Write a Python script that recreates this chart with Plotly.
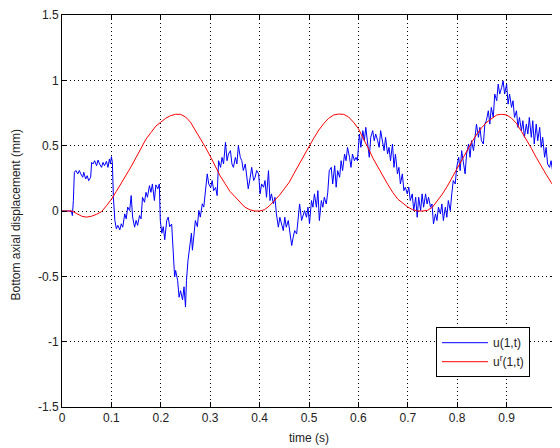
import plotly.graph_objects as go

# ---- data ----
t_u = [0.000, 0.010, 0.019, 0.021, 0.023, 0.025, 0.028, 0.032, 0.035, 0.038, 0.042, 0.044, 0.048, 0.051, 0.054, 0.058,
       0.060, 0.063, 0.066, 0.070, 0.073, 0.076, 0.080, 0.083, 0.086, 0.090, 0.093, 0.096, 0.098, 0.100, 0.102, 0.104,
       0.107, 0.110, 0.113, 0.117, 0.120, 0.123, 0.127, 0.130, 0.133, 0.137, 0.140, 0.143, 0.147, 0.150, 0.153, 0.157,
       0.160, 0.163, 0.167, 0.170, 0.173, 0.177, 0.180, 0.183, 0.187, 0.190, 0.194, 0.197,
       0.199, 0.202, 0.205, 0.208, 0.212, 0.215, 0.218, 0.222, 0.225, 0.228, 0.230, 0.234, 0.237, 0.240, 0.244, 0.247,
       0.250, 0.252, 0.255, 0.258, 0.262, 0.264, 0.267, 0.270, 0.274, 0.277, 0.280, 0.284, 0.287, 0.291, 0.294, 0.297,
       0.301, 0.304, 0.307, 0.311, 0.314, 0.317, 0.321, 0.324, 0.327, 0.331, 0.334, 0.337, 0.341, 0.344, 0.347, 0.351,
       0.354, 0.357, 0.361, 0.364, 0.367, 0.371, 0.374, 0.377, 0.381, 0.384, 0.388, 0.391, 0.394,
       0.398, 0.401, 0.404, 0.408, 0.411, 0.414, 0.418, 0.421, 0.424, 0.428, 0.431, 0.434, 0.438, 0.441, 0.444, 0.448,
       0.451, 0.454, 0.458, 0.461, 0.465, 0.468, 0.471, 0.475, 0.478, 0.481, 0.485, 0.488, 0.491, 0.495, 0.498, 0.501,
       0.505, 0.508, 0.511, 0.515, 0.518, 0.521, 0.525, 0.528, 0.531, 0.535, 0.538, 0.541, 0.545, 0.548, 0.552, 0.555,
       0.558, 0.562, 0.565, 0.568, 0.572, 0.575, 0.578, 0.582, 0.585, 0.588, 0.592, 0.595,
       0.598, 0.602, 0.605, 0.609, 0.612, 0.615, 0.619, 0.622, 0.625, 0.629, 0.632, 0.635, 0.639, 0.642, 0.645, 0.649,
       0.652, 0.655, 0.659, 0.662, 0.665, 0.669, 0.672, 0.675, 0.679, 0.682, 0.685, 0.689, 0.692, 0.695, 0.699, 0.702,
       0.705, 0.709, 0.712, 0.716, 0.719, 0.722, 0.726, 0.729, 0.732, 0.736, 0.739, 0.742, 0.746, 0.749, 0.752, 0.756,
       0.759, 0.762, 0.766, 0.769, 0.772, 0.776, 0.779, 0.782, 0.786, 0.789, 0.792, 0.796,
       0.799, 0.803, 0.806, 0.809, 0.813, 0.816, 0.819, 0.823, 0.826, 0.829, 0.833, 0.836, 0.839, 0.843, 0.846, 0.849,
       0.853, 0.856, 0.859, 0.863, 0.866, 0.869, 0.873, 0.876, 0.880, 0.883, 0.886, 0.890, 0.893, 0.896, 0.900, 0.903,
       0.906, 0.910, 0.913, 0.916, 0.920, 0.923, 0.926, 0.930, 0.933, 0.936, 0.940, 0.943, 0.946, 0.950, 0.953, 0.956,
       0.960, 0.963, 0.967, 0.970, 0.973, 0.977, 0.980, 0.983, 0.987, 0.990, 0.993, 0.997, 1.000]

u_vals = [0, 0, 0, -0.035, 0.08, 0.296, 0.31, 0.284, 0.31, 0.284, 0.258, 0.296, 0.245, 0.27, 0.232, 0.258,
          0.372, 0.36, 0.385, 0.347, 0.39, 0.36, 0.334, 0.372, 0.347, 0.38, 0.334, 0.398, 0.36, 0.416, 0.372, 0.105,
          -0.072, -0.136, -0.11, -0.144, -0.098, -0.124, -0.022, -0.06, 0.03, 0.003, 0.118, -0.047, -0.124, -0.072, -0.11, -0.035,
          -0.06, 0.105, 0.067, 0.143, 0.105, 0.194, 0.143, 0.207, 0.08, 0.2, 0.17, 0.207,
          -0.073, -0.17, -0.12, -0.22, -0.073, -0.047, -0.12, -0.1, -0.276, -0.505, -0.455, -0.53, -0.66, -0.61, -0.68, -0.58,
          -0.735, -0.53, -0.38, -0.3, -0.17, -0.3, -0.15, -0.073, -0.12, 0.004, -0.047, 0.055, 0.03, 0.156, 0.284, 0.207,
          0.18, 0.233, 0.156, 0.18, 0.118, 0.385, 0.334, 0.41, 0.36, 0.525, 0.385, 0.436, 0.462, 0.36, 0.334, 0.41,
          0.36, 0.5, 0.41, 0.385, 0.31, 0.36, 0.284, 0.17, 0.258, 0.334, 0.233, 0.258, 0.31,
          0.284, 0.131, 0.207, 0.182, 0.233, 0.105, 0.309, 0.08, 0.131, 0.054, 0.105, -0.022, -0.124, -0.048, -0.099, -0.15,
          -0.048, -0.124, -0.073, -0.175, -0.264, -0.2, -0.15, -0.175, -0.073, 0.054, -0.073, -0.022, 0.003, -0.048, 0.029, -0.099,
          0.08, 0.029, 0.131, 0.029, 0.156, -0.073, 0.08, 0.029, 0.105, 0.054, 0.144, 0.309, 0.334, 0.207, 0.347, 0.182,
          0.309, 0.258, 0.385, 0.309, 0.436, 0.385, 0.487, 0.411, 0.334, 0.436, 0.385, 0.411,
          0.385, 0.589, 0.487, 0.615, 0.538, 0.64, 0.513, 0.411, 0.564, 0.615, 0.538, 0.589, 0.538, 0.487, 0.615, 0.538,
          0.462, 0.564, 0.436, 0.487, 0.385, 0.513, 0.334, 0.436, 0.284, 0.334, 0.207, 0.284, 0.156, 0.182, 0.131, 0.182,
          0.08, 0.131, 0.003, 0.105, -0.048, 0.105, 0.003, 0.131, 0.029, 0.131, 0.054, 0.105, 0.029, 0.054, -0.099, -0.022,
          -0.073, 0.029, -0.022, 0.054, -0.073, 0.029, -0.048, 0.08, 0.003, 0.131, 0.233, 0.207,
          0.334, 0.411, 0.309, 0.462, 0.36, 0.284, 0.436, 0.513, 0.411, 0.538, 0.462, 0.564, 0.665, 0.564, 0.64, 0.538,
          0.513, 0.665, 0.691, 0.767, 0.665, 0.793, 0.716, 0.895, 0.844, 0.971, 0.895, 0.946, 0.996, 0.895, 0.971, 0.818,
          0.895, 0.793, 0.844, 0.716, 0.767, 0.64, 0.716, 0.615, 0.691, 0.564, 0.665, 0.589, 0.716, 0.564, 0.691, 0.513,
          0.665, 0.538, 0.64, 0.487, 0.564, 0.411, 0.487, 0.36, 0.334, 0.385, 0.309, 0.411, 0.462]

t_ur = [0.00, 0.02, 0.03, 0.04, 0.05, 0.06, 0.07, 0.08, 0.09, 0.10, 0.11, 0.12, 0.13, 0.14, 0.15, 0.16, 0.17, 0.18,
        0.19, 0.20, 0.21, 0.22, 0.23, 0.24, 0.25, 0.26, 0.27, 0.28, 0.29, 0.30, 0.31, 0.32, 0.33, 0.34, 0.35, 0.36,
        0.37, 0.38, 0.39, 0.40, 0.41, 0.42, 0.43, 0.44, 0.45, 0.46, 0.47, 0.48, 0.49, 0.50, 0.51, 0.52, 0.53, 0.54,
        0.55, 0.56, 0.57, 0.58, 0.59, 0.60, 0.61, 0.62, 0.63, 0.64, 0.65, 0.66, 0.67, 0.68, 0.69, 0.70, 0.71, 0.72,
        0.73, 0.74, 0.75, 0.76, 0.77, 0.78, 0.79, 0.80, 0.81, 0.82, 0.83, 0.84, 0.85, 0.86, 0.87, 0.88, 0.89, 0.90,
        0.91, 0.92, 0.93, 0.94, 0.95, 0.96, 0.97, 0.98, 0.99, 1.00]
ur_vals = [0, 0, -0.02, -0.04, -0.047, -0.04, -0.025, -0.005, 0.04, 0.09, 0.15, 0.21, 0.27, 0.34, 0.41, 0.48, 0.55, 0.60,
           0.65, 0.68, 0.71, 0.73, 0.74, 0.74, 0.72, 0.68, 0.62, 0.56, 0.49, 0.42, 0.34, 0.27, 0.21, 0.15, 0.11, 0.07,
           0.03, 0.01, 0.0, 0.0, 0.01, 0.04, 0.08, 0.12, 0.17, 0.22, 0.29, 0.36, 0.43, 0.50, 0.56, 0.62, 0.67, 0.71,
           0.735, 0.742, 0.74, 0.72, 0.68, 0.63, 0.56, 0.48, 0.40, 0.33, 0.26, 0.20, 0.14, 0.09, 0.06, 0.03, 0.01, 0.0,
           0.0, 0.005, 0.03, 0.08, 0.13, 0.19, 0.26, 0.32, 0.39, 0.46, 0.53, 0.59, 0.64, 0.68, 0.71, 0.735, 0.74, 0.735,
           0.71, 0.67, 0.61, 0.55, 0.48, 0.41, 0.34, 0.28, 0.22, 0.16]

x_ticks = [0, 0.1, 0.2, 0.3, 0.4, 0.5, 0.6, 0.7, 0.8, 0.9, 1.0]
x_labels = ["0", "0.1", "0.2", "0.3", "0.4", "0.5", "0.6", "0.7", "0.8", "0.9", "1"]
y_ticks = [-1.5, -1, -0.5, 0, 0.5, 1, 1.5]
y_labels = ["-1.5", "-1", "-0.5", "0", "0.5", "1", "1.5"]

FONT = "Liberation Sans, Arial, sans-serif"

fig = go.Figure()
fig.add_trace(go.Scatter(x=t_u, y=u_vals, mode="lines", name="u(1,t)",
                         line=dict(color="#0000ff", width=1)))
fig.add_trace(go.Scatter(x=t_ur, y=ur_vals, mode="lines", name="u<sup>r</sup>(1,t)",
                         line=dict(color="#ff0000", width=1)))

axis_common = dict(showline=True, linecolor="black", linewidth=1, mirror="ticks",
                   ticks="inside", ticklen=5, tickcolor="black", showgrid=True,
                   gridcolor="black", gridwidth=1, griddash="1px,3px", zeroline=False,
                   ticklabeloverflow="allow",
                   tickfont=dict(family=FONT, size=12, color="#222"))

fig.update_xaxes(range=[0, 1], tickvals=x_ticks, ticktext=x_labels, **axis_common)
fig.update_yaxes(range=[-1.5, 1.5], tickvals=y_ticks, ticktext=y_labels, **axis_common)

# The page body adds an 8px offset; the figure is sized/placed to compensate.
fig.update_layout(
    width=552, height=440,
    margin=dict(l=54, r=0, t=6, b=41),
    paper_bgcolor="white", plot_bgcolor="white",
    font=dict(family=FONT, size=12, color="#222"),
    showlegend=True,
    legend=dict(x=0.757, y=0.2036, xanchor="left", yanchor="top",
                bgcolor="white", bordercolor="black", borderwidth=1,
                font=dict(family=FONT, size=12, color="#222"),
                itemwidth=46, tracegroupgap=0, entrywidth=46, entrywidthmode="pixels"),
    annotations=[
        dict(text="time (s)", xref="paper", yref="paper", x=0.5, y=-0.079,
             xanchor="center", yanchor="middle", showarrow=False,
             font=dict(family=FONT, size=12, color="#222")),
        dict(text="Bottom axial displacement (mm)", xref="paper", yref="paper",
             x=-0.094, y=0.49, xanchor="center", yanchor="middle", textangle=-90,
             showarrow=False, font=dict(family=FONT, size=12, color="#222")),
    ],
)

fig.write_html("out.html")
